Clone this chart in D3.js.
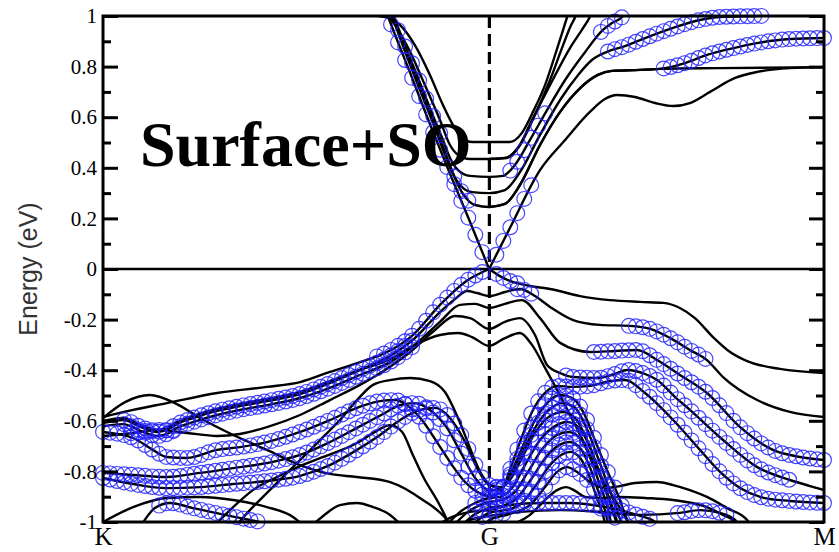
<!DOCTYPE html>
<html>
<head>
<meta charset="utf-8">
<script src="https://cdn.jsdelivr.net/npm/d3@7"></script>
<style>
  html, body { margin: 0; padding: 0; background: #fff; }
  svg { display: block; }
</style>
</head>
<body>
<svg id="chart" width="839" height="552"></svg>
<script>
// ---- k-path and energy axis -------------------------------------------
const kPoints = [0, 1.1547, 2.1547];          // K, G, M (path distance)
const kLabels = ["K", "G", "M"];
const eMajor = [1, 0.8, 0.6, 0.4, 0.2, 0, -0.2, -0.4, -0.6, -0.8, -1];
const eMinor = [0.9, 0.7, 0.5, 0.3, 0.1, -0.1, -0.3, -0.5, -0.7, -0.9];
const meshKG = 55;   // k-mesh intervals K->G
const meshGM = 48;   // k-mesh intervals G->M

// ---- conduction bands [k, E(eV)] ---------------------------------------
const cDiracL = [[0.843,1.024],[0.852,0.996],[0.873,0.925],[0.918,0.775],[0.977,0.573],[1.037,0.376],[1.097,0.186],[1.154,0]];
const cDiracR = [[1.154,0],[1.216,0.162],[1.306,0.391],[1.381,0.510],[1.455,0.621],[1.500,0.672],[1.536,0.688],[1.590,0.680],[1.650,0.656],[1.704,0.644],[1.754,0.656],[1.814,0.700],[1.889,0.755],[1.955,0.779],[2.053,0.794],[2.155,0.798]];
const cSub1 = [[0.708,1.008],[0.783,1.004],[0.843,0.996],[0.888,0.964],[0.932,0.885],[0.977,0.767],[1.016,0.648],[1.046,0.569],[1.073,0.518],[1.103,0.502],[1.154,0.502],[1.216,0.502],[1.252,0.538],[1.285,0.621],[1.321,0.727],[1.354,0.858],[1.375,0.945],[1.387,0.996],[1.396,1.032]];
const cSub2 = [[0.837,1.016],[0.873,0.964],[0.918,0.858],[0.962,0.727],[1.007,0.589],[1.037,0.490],[1.061,0.451],[1.097,0.435],[1.154,0.435],[1.207,0.439],[1.246,0.490],[1.291,0.609],[1.336,0.747],[1.375,0.885],[1.399,0.964],[1.411,0.996],[1.420,1.032]];
const cSub2b = [[1.154,0.435],[1.201,0.439],[1.240,0.478],[1.282,0.589],[1.336,0.727],[1.396,0.874],[1.435,0.953],[1.455,0.996],[1.467,1.032]];
const cSub3 = [[0.858,1.016],[0.888,0.925],[0.932,0.787],[0.977,0.636],[1.016,0.510],[1.037,0.439],[1.061,0.391],[1.097,0.368],[1.154,0.364],[1.195,0.368],[1.231,0.411],[1.276,0.510],[1.327,0.628],[1.381,0.747],[1.441,0.858],[1.494,0.945],[1.521,0.972],[1.554,1.000],[1.569,1.032]];
const cSub4 = [[0.852,1.032],[0.864,0.996],[0.903,0.858],[0.947,0.708],[0.992,0.557],[1.022,0.451],[1.043,0.383],[1.067,0.332],[1.103,0.304],[1.154,0.300],[1.201,0.312],[1.246,0.383],[1.306,0.530],[1.366,0.668],[1.420,0.767],[1.461,0.826],[1.506,0.858],[1.560,0.881],[1.605,0.905],[1.704,0.953],[1.784,0.984],[1.844,0.996],[1.955,1.000],[2.053,1.004],[2.113,1.008]];
const cSub5 = [[0.864,1.016],[0.876,0.976],[0.912,0.846],[0.953,0.700],[1.001,0.538],[1.031,0.431],[1.058,0.340],[1.082,0.285],[1.112,0.253],[1.154,0.245],[1.201,0.257],[1.246,0.332],[1.306,0.490],[1.366,0.621],[1.426,0.715],[1.479,0.767],[1.521,0.783],[1.605,0.787],[1.665,0.791],[1.844,0.794],[2.155,0.798]];
const cSub5b = [[1.154,0.245],[1.201,0.257],[1.246,0.332],[1.306,0.490],[1.366,0.621],[1.426,0.715],[1.479,0.767],[1.521,0.783],[1.605,0.787],[1.665,0.791],[1.739,0.814],[1.805,0.846],[1.874,0.870],[1.955,0.893],[2.053,0.909],[2.155,0.913]];

// ---- valence bands [k, E(eV)] ------------------------------------------
const vDiracL = [[0,-0.585],[0.090,-0.557],[0.191,-0.530],[0.341,-0.490],[0.490,-0.466],[0.589,-0.447],[0.678,-0.407],[0.768,-0.368],[0.849,-0.328],[0.926,-0.261],[1.007,-0.142],[1.082,-0.051],[1.154,0]];
const vDiracR = [[1.154,0],[1.186,-0.028],[1.216,-0.047],[1.246,-0.059],[1.276,-0.067],[1.336,-0.079],[1.426,-0.107],[1.515,-0.123],[1.605,-0.130],[1.674,-0.134],[1.724,-0.154],[1.769,-0.194],[1.823,-0.269],[1.874,-0.328],[1.925,-0.364],[2.023,-0.395],[2.155,-0.411]];
const vBand2 = [[0,-0.609],[0.060,-0.597],[0.120,-0.628],[0.161,-0.644],[0.191,-0.636],[0.221,-0.613],[0.269,-0.589],[0.341,-0.561],[0.409,-0.542],[0.490,-0.522],[0.589,-0.494],[0.678,-0.451],[0.768,-0.399],[0.858,-0.344],[0.932,-0.273],[1.007,-0.170],[1.052,-0.119],[1.088,-0.087],[1.118,-0.095],[1.154,-0.107],[1.201,-0.091],[1.246,-0.079],[1.291,-0.107],[1.336,-0.150],[1.405,-0.202],[1.485,-0.221],[1.575,-0.225],[1.635,-0.237],[1.695,-0.273],[1.754,-0.320],[1.805,-0.360],[1.853,-0.427],[1.955,-0.518],[2.053,-0.565],[2.155,-0.585]];
const vBand3 = [[0,-0.621],[0.060,-0.613],[0.120,-0.644],[0.161,-0.660],[0.191,-0.652],[0.221,-0.628],[0.269,-0.605],[0.341,-0.577],[0.409,-0.557],[0.490,-0.538],[0.589,-0.510],[0.678,-0.470],[0.768,-0.419],[0.858,-0.368],[0.932,-0.300],[1.007,-0.209],[1.067,-0.142],[1.112,-0.138],[1.154,-0.154],[1.201,-0.138],[1.252,-0.123],[1.306,-0.194],[1.366,-0.292],[1.455,-0.328],[1.530,-0.324],[1.596,-0.320],[1.656,-0.360],[1.724,-0.419],[1.805,-0.490],[1.904,-0.625],[2.002,-0.715],[2.083,-0.743],[2.155,-0.755]];
const vBand4 = [[0,-0.660],[0.090,-0.648],[0.161,-0.636],[0.251,-0.648],[0.341,-0.660],[0.409,-0.652],[0.490,-0.625],[0.589,-0.577],[0.678,-0.518],[0.768,-0.458],[0.843,-0.399],[0.918,-0.328],[0.992,-0.241],[1.052,-0.186],[1.097,-0.194],[1.154,-0.237],[1.201,-0.209],[1.246,-0.194],[1.291,-0.261],[1.327,-0.379],[1.366,-0.411],[1.405,-0.427],[1.476,-0.431],[1.530,-0.415],[1.566,-0.399],[1.620,-0.415],[1.656,-0.439],[1.710,-0.506],[1.754,-0.557],[1.853,-0.676],[1.955,-0.783],[2.053,-0.834],[2.113,-0.858],[2.155,-0.874]];
const vBand5 = [[0,-0.601],[0.060,-0.589],[0.120,-0.621],[0.161,-0.636],[0.191,-0.628],[0.221,-0.605],[0.269,-0.581],[0.341,-0.553],[0.409,-0.534],[0.490,-0.514],[0.589,-0.486],[0.678,-0.443],[0.768,-0.399],[0.858,-0.356],[0.932,-0.300],[1.007,-0.261],[1.061,-0.253],[1.103,-0.269],[1.154,-0.304],[1.201,-0.273],[1.246,-0.253],[1.282,-0.300],[1.321,-0.391],[1.357,-0.478],[1.396,-0.577],[1.441,-0.696],[1.485,-0.814],[1.530,-0.913],[1.569,-1.000],[1.581,-1.032]];
const vDeep1 = [[0,-0.644],[0.090,-0.668],[0.149,-0.715],[0.191,-0.743],[0.251,-0.747],[0.341,-0.715],[0.409,-0.704],[0.490,-0.684],[0.589,-0.644],[0.678,-0.597],[0.759,-0.549],[0.828,-0.522],[0.873,-0.518],[0.912,-0.542],[0.953,-0.597],[0.998,-0.684],[1.043,-0.775],[1.082,-0.842],[1.118,-0.881],[1.154,-0.897],[1.186,-0.885],[1.216,-0.794],[1.246,-0.684],[1.282,-0.565],[1.321,-0.490],[1.357,-0.462],[1.402,-0.466],[1.455,-0.462],[1.515,-0.443],[1.560,-0.439],[1.620,-0.490],[1.704,-0.597],[1.784,-0.715],[1.844,-0.802],[1.904,-0.866],[1.964,-0.901],[2.053,-0.917],[2.155,-0.925]];
const vDeep2 = [[0,-0.806],[0.090,-0.814],[0.191,-0.822],[0.290,-0.806],[0.389,-0.787],[0.490,-0.767],[0.589,-0.735],[0.678,-0.684],[0.759,-0.628],[0.837,-0.573],[0.888,-0.538],[0.932,-0.530],[0.977,-0.557],[1.028,-0.628],[1.073,-0.735],[1.112,-0.826],[1.154,-0.874],[1.186,-0.874],[1.216,-0.814],[1.252,-0.708],[1.291,-0.597],[1.330,-0.526],[1.366,-0.498],[1.402,-0.510],[1.435,-0.565],[1.470,-0.676],[1.506,-0.794],[1.539,-0.893],[1.569,-1.000],[1.581,-1.032]];
const vDeep3 = [[0,-0.826],[0.090,-0.850],[0.191,-0.866],[0.290,-0.862],[0.389,-0.850],[0.490,-0.838],[0.589,-0.818],[0.678,-0.775],[0.759,-0.715],[0.828,-0.656],[0.888,-0.597],[0.947,-0.557],[0.992,-0.549],[1.037,-0.589],[1.082,-0.684],[1.118,-0.787],[1.154,-0.854],[1.192,-0.862],[1.225,-0.802],[1.261,-0.704],[1.300,-0.609],[1.336,-0.553],[1.372,-0.530],[1.408,-0.545],[1.441,-0.617],[1.476,-0.735],[1.509,-0.854],[1.536,-0.953],[1.551,-1.012]];
const vDeep4 = [[0.394,-1.020],[0.439,-0.953],[0.490,-0.885],[0.544,-0.814],[0.589,-0.755],[0.649,-0.676],[0.708,-0.597],[0.759,-0.518],[0.807,-0.458],[0.858,-0.439],[0.918,-0.431],[0.977,-0.443],[1.022,-0.486],[1.061,-0.589],[1.097,-0.708],[1.127,-0.802],[1.154,-0.850],[1.186,-0.866],[1.216,-0.834],[1.252,-0.747],[1.291,-0.648],[1.336,-0.581],[1.375,-0.565],[1.411,-0.589],[1.444,-0.668],[1.476,-0.775],[1.506,-0.881],[1.530,-0.972],[1.542,-1.020]];
const vDeep5 = [[1.022,-1.020],[1.067,-0.960],[1.112,-0.925],[1.154,-0.905],[1.186,-0.901],[1.222,-0.866],[1.261,-0.775],[1.306,-0.676],[1.351,-0.621],[1.387,-0.605],[1.423,-0.628],[1.455,-0.704],[1.485,-0.814],[1.512,-0.913],[1.527,-0.972],[1.539,-1.020]];
const vDeep6 = [[1.043,-1.020],[1.091,-0.960],[1.127,-0.933],[1.154,-0.921],[1.192,-0.913],[1.231,-0.881],[1.270,-0.802],[1.315,-0.708],[1.357,-0.656],[1.390,-0.644],[1.426,-0.668],[1.455,-0.743],[1.485,-0.854],[1.506,-0.933],[1.521,-1.020]];
const vDeep7 = [[1.067,-1.020],[1.112,-0.968],[1.154,-0.945],[1.201,-0.933],[1.240,-0.901],[1.282,-0.826],[1.324,-0.743],[1.363,-0.696],[1.393,-0.684],[1.426,-0.708],[1.455,-0.783],[1.479,-0.874],[1.500,-0.953],[1.512,-1.020]];
const vDeep8 = [[1.097,-1.020],[1.154,-0.964],[1.216,-0.949],[1.252,-0.925],[1.294,-0.854],[1.336,-0.775],[1.369,-0.735],[1.396,-0.723],[1.426,-0.747],[1.452,-0.814],[1.476,-0.905],[1.494,-0.972],[1.503,-1.020]];
const vDeep9 = [[1.142,-1.020],[1.154,-0.992],[1.216,-0.968],[1.276,-0.933],[1.321,-0.862],[1.357,-0.802],[1.387,-0.783],[1.417,-0.802],[1.455,-0.842],[1.500,-0.866],[1.545,-0.858],[1.590,-0.846],[1.656,-0.842],[1.704,-0.854],[1.754,-0.874],[1.805,-0.901],[1.865,-0.945],[1.925,-0.992],[1.940,-1.020]];
const vDeep10 = [[1.201,-1.020],[1.276,-0.972],[1.321,-0.913],[1.357,-0.874],[1.384,-0.862],[1.411,-0.877],[1.441,-0.901],[1.485,-0.905],[1.545,-0.901],[1.620,-0.905],[1.704,-0.913],[1.805,-0.941],[1.853,-0.972],[1.883,-0.992],[1.904,-1.020]];
const vLow1 = [[0.992,-1.020],[1.037,-0.984],[1.097,-0.960],[1.154,-0.953],[1.216,-0.933],[1.306,-0.925],[1.396,-0.925],[1.485,-0.937],[1.545,-0.953],[1.605,-0.976],[1.650,-1.000],[1.665,-1.020]];
const vLow2 = [[1.067,-1.020],[1.097,-0.992],[1.154,-0.976],[1.246,-0.960],[1.366,-0.953],[1.485,-0.960],[1.605,-0.972],[1.724,-0.964],[1.784,-0.953],[1.844,-0.964],[1.889,-0.992],[1.904,-1.020]];
const vKBottom = [[0,-1.000],[0.090,-0.941],[0.191,-0.905],[0.290,-0.901],[0.389,-0.913],[0.490,-0.941],[0.568,-0.980],[0.604,-1.020]];
const vKHump = [[0.111,-1.020],[0.155,-0.945],[0.200,-0.925],[0.269,-0.945],[0.350,-0.968],[0.424,-0.988],[0.484,-1.008],[0.499,-1.020]];
const vRise = [[0.329,-1.020],[0.389,-0.941],[0.448,-0.874],[0.520,-0.822],[0.589,-0.779],[0.658,-0.743],[0.759,-0.688],[0.813,-0.644],[0.858,-0.617],[0.894,-0.644],[0.926,-0.735],[0.962,-0.834],[0.998,-0.913],[1.028,-0.992],[1.037,-1.020]];
const vPeakK = [[0,-0.589],[0.066,-0.526],[0.140,-0.498],[0.215,-0.530],[0.290,-0.589],[0.389,-0.656],[0.490,-0.715],[0.589,-0.775],[0.678,-0.810],[0.759,-0.822],[0.858,-0.842],[0.956,-0.913],[1.028,-0.992],[1.043,-1.020]];
const vArc = [[0.619,-1.020],[0.658,-0.976],[0.708,-0.933],[0.759,-0.925],[0.807,-0.941],[0.858,-0.972],[0.897,-1.020]];

// ---- k-ranges with strong surface weight (drawn as circles) -------------
const wDiracL = [[0.85,1.155]];
const wDiracR = [[1.16,1.30]];
const wSub3 = [[0.87,1.02],[1.20,1.33],[1.48,1.57]];
const wSub4 = [[1.50,1.97]];
const wSub5 = [[1.04,1.10]];
const wSub5b = [[1.665,2.16]];
const wVDiracL = [[0.80,1.155]];
const wVDiracR = [[1.16,1.25]];
const wBand2 = [[0.06,0.93],[1.22,1.29],[1.57,1.81]];
const wBand3 = [[0.06,0.93],[1.45,2.16]];
const wBand4 = [[0.08,0.21],[1.38,2.07]];
const wDeep1 = [[0,2.16]];
const wDeep2 = [[0,1.56]];
const wDeep3 = [[0,1.55]];
const wDeep4 = [[1.16,1.54]];
const wDeep5 = [[1.10,1.54]];
const wDeep6 = [[1.15,1.52]];
const wDeep7 = [[1.18,1.50]];
const wDeep8 = [[1.22,1.50]];
const wDeep9 = [[1.30,1.45]];
const wLow1 = [[1.10,1.65]];
const wLow2 = [[1.12,1.20],[1.70,1.88]];
const wKHump = [[0.15,0.48]];

const bands = [
  {pts: cDiracL, w: wDiracL}, {pts: cDiracR, w: wDiracR},
  {pts: cSub1, w: []}, {pts: cSub2, w: []}, {pts: cSub2b, w: []},
  {pts: cSub3, w: wSub3}, {pts: cSub4, w: wSub4},
  {pts: cSub5, w: wSub5}, {pts: cSub5b, w: wSub5b},
  {pts: vDiracL, w: wVDiracL}, {pts: vDiracR, w: wVDiracR},
  {pts: vBand2, w: wBand2}, {pts: vBand3, w: wBand3},
  {pts: vBand4, w: wBand4}, {pts: vBand5, w: []},
  {pts: vDeep1, w: wDeep1}, {pts: vDeep2, w: wDeep2}, {pts: vDeep3, w: wDeep3},
  {pts: vDeep4, w: wDeep4}, {pts: vDeep5, w: wDeep5}, {pts: vDeep6, w: wDeep6},
  {pts: vDeep7, w: wDeep7}, {pts: vDeep8, w: wDeep8}, {pts: vDeep9, w: wDeep9},
  {pts: vDeep10, w: []}, {pts: vLow1, w: wLow1}, {pts: vLow2, w: wLow2},
  {pts: vKBottom, w: []}, {pts: vKHump, w: wKHump}, {pts: vRise, w: []},
  {pts: vPeakK, w: []}, {pts: vArc, w: []}
];

// ---- layout ----------------------------------------------------------------
const plotL = 103, plotR = 824, plotT = 16, plotB = 522;
const x = d3.scaleLinear().domain([kPoints[0], kPoints[2]]).range([plotL, plotR]);
const y = d3.scaleLinear().domain([-1, 1]).range([plotB, plotT]);

const svg = d3.select("#chart");
svg.append("rect").attr("width", 839).attr("height", 552).attr("fill", "#fff");
svg.append("defs").append("clipPath").attr("id", "plotArea")
  .append("rect").attr("x", plotL).attr("y", plotT)
  .attr("width", plotR - plotL).attr("height", plotB - plotT);

// Fermi level and G marker
svg.append("line")
  .attr("x1", plotL).attr("x2", plotR).attr("y1", y(0)).attr("y2", y(0))
  .attr("stroke", "#000").attr("stroke-width", 2.6);
svg.append("line")
  .attr("x1", x(kPoints[1])).attr("x2", x(kPoints[1]))
  .attr("y1", plotT).attr("y2", plotB)
  .attr("stroke", "#000").attr("stroke-width", 3.2)
  .attr("stroke-dasharray", "12,6");

// band lines
const line = d3.line().x(d => x(d[0])).y(d => y(d[1])).curve(d3.curveMonotoneX);
const bandLayer = svg.append("g").attr("clip-path", "url(#plotArea)");
const paths = bands.map(b => bandLayer.append("path")
  .attr("d", line(b.pts))
  .attr("fill", "none").attr("stroke", "#000")
  .attr("stroke-width", 2.4).attr("stroke-linejoin", "round").node());

// k-mesh along K-G-M
const kMesh = d3.range(meshKG + 1).map(i => kPoints[0] + i * (kPoints[1] - kPoints[0]) / meshKG)
  .concat(d3.range(1, meshGM + 1).map(i => kPoints[1] + i * (kPoints[2] - kPoints[1]) / meshGM));

// screen-space lookup of a drawn band: y at a given x
function lookup(node) {
  const L = node.getTotalLength();
  const pts = [];
  for (let s = 0; s < L; s += 1) { const p = node.getPointAtLength(s); pts.push([p.x, p.y]); }
  const pe = node.getPointAtLength(L); pts.push([pe.x, pe.y]);
  return px => {
    if (px < pts[0][0] - 0.01 || px > pts[pts.length - 1][0] + 0.01) return null;
    for (let i = 1; i < pts.length; i++) {
      if (pts[i][0] >= px) {
        const a = pts[i - 1], b = pts[i];
        const t = b[0] === a[0] ? 0 : (px - a[0]) / (b[0] - a[0]);
        return a[1] + t * (b[1] - a[1]);
      }
    }
    return pts[pts.length - 1][1];
  };
}

const marks = [];
bands.forEach((b, i) => {
  if (!b.w.length) return;
  const f = lookup(paths[i]);
  kMesh.forEach(k => {
    if (!b.w.some(r => k >= r[0] && k <= r[1])) return;
    const px = x(k), py = f(px);
    if (py === null || py < plotT - 2 || py > plotB + 2) return;
    marks.push([px, py]);
  });
});

svg.append("g").selectAll("circle").data(marks).join("circle")
  .attr("cx", d => d[0]).attr("cy", d => d[1]).attr("r", 7.4)
  .attr("fill", "none").attr("stroke", "#1f1fff")
  .attr("stroke-opacity", 0.82).attr("stroke-width", 1.2);

// frame
svg.append("rect")
  .attr("x", plotL).attr("y", plotT).attr("width", plotR - plotL).attr("height", plotB - plotT)
  .attr("fill", "none").attr("stroke", "#000").attr("stroke-width", 3);

// energy axis ticks (inward) on both sides
const fmt = d => String(+d.toFixed(1));
const axL = svg.append("g").attr("transform", `translate(${plotL},0)`)
  .call(d3.axisLeft(y).tickValues(eMajor).tickSize(-15).tickPadding(6).tickFormat(fmt));
svg.append("g").attr("transform", `translate(${plotL},0)`)
  .call(d3.axisLeft(y).tickValues(eMinor).tickSize(-8).tickFormat(""));
svg.append("g").attr("transform", `translate(${plotR},0)`)
  .call(d3.axisRight(y).tickValues(eMajor).tickSize(-15).tickFormat(""));
svg.append("g").attr("transform", `translate(${plotR},0)`)
  .call(d3.axisRight(y).tickValues(eMinor).tickSize(-8).tickFormat(""));
svg.selectAll(".domain").remove();
svg.selectAll(".tick line").attr("stroke", "#000").attr("stroke-width", 3);
axL.selectAll("text")
  .attr("font-family", "'Liberation Serif', 'Times New Roman', serif")
  .attr("font-size", 21).attr("fill", "#000");

// k-path labels
const axB = svg.append("g").attr("transform", `translate(0,${plotB})`)
  .call(d3.axisBottom(x).tickValues(kPoints).tickSize(0).tickPadding(5)
    .tickFormat((d, i) => kLabels[i]));
axB.select(".domain").remove();
axB.selectAll("text")
  .attr("font-family", "'Liberation Serif', 'Times New Roman', serif")
  .attr("font-size", 25).attr("fill", "#000");

// axis title
svg.append("text")
  .attr("transform", `translate(37,${y(0)}) rotate(-90)`)
  .attr("text-anchor", "middle")
  .attr("font-family", "'Liberation Sans', Arial, sans-serif")
  .attr("font-size", 25).attr("fill", "#333")
  .text("Energy (eV)");

// panel title
svg.append("text")
  .attr("x", 140).attr("y", 166)
  .attr("font-family", "'Liberation Serif', 'Times New Roman', serif")
  .attr("font-weight", "bold").attr("font-size", 64).attr("fill", "#000")
  .text("Surface+SO");
</script>
</body>
</html>
